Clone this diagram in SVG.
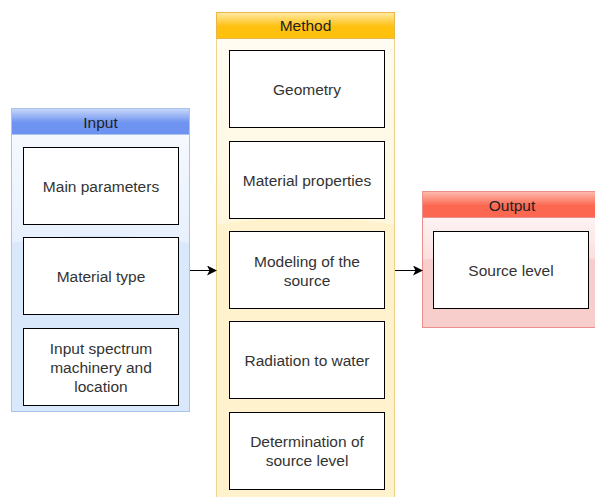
<svg xmlns="http://www.w3.org/2000/svg" width="595" height="497" viewBox="0 0 595 497">
<defs>
<linearGradient id="glass" x1="0" y1="0" x2="0" y2="1">
<stop offset="0" stop-color="#fff" stop-opacity="0.75"/>
<stop offset="1" stop-color="#fff" stop-opacity="0.35"/>
</linearGradient>
<linearGradient id="hb" x1="0" y1="0" x2="0" y2="1">
<stop offset="0" stop-color="#c9d8fa"/>
<stop offset="0.55" stop-color="#6e93f0"/>
<stop offset="1" stop-color="#6e93f0"/>
</linearGradient>
<linearGradient id="hy" x1="0" y1="0" x2="0" y2="1">
<stop offset="0" stop-color="#ffe9a6"/>
<stop offset="0.55" stop-color="#ffc10e"/>
<stop offset="1" stop-color="#ffc10e"/>
</linearGradient>
<linearGradient id="hr" x1="0" y1="0" x2="0" y2="1">
<stop offset="0" stop-color="#fdbcb0"/>
<stop offset="0.55" stop-color="#fb6750"/>
<stop offset="1" stop-color="#fb6750"/>
</linearGradient>
<marker id="arr" viewBox="0 0 10 10" refX="9" refY="5" markerWidth="10" markerHeight="10" markerUnits="userSpaceOnUse" orient="auto">
<path d="M0,0 L10,5 L0,10 L2.5,5 Z" fill="#000"/>
</marker>
<style>
.box{fill:#fff;stroke:#000;stroke-width:1}
.t{font-family:"Liberation Sans",Arial,sans-serif;font-size:15.5px;fill:#333;text-anchor:middle}
.h{font-family:"Liberation Sans",Arial,sans-serif;font-size:15.5px;fill:#222;text-anchor:middle}
.edge{fill:none;stroke:#000;stroke-width:1}
</style>
</defs>
<rect width="595" height="497" fill="#fff"/>

<g id="input">
<rect x="11.5" y="108.5" width="178" height="303" fill="#dae8fc" stroke="#a9c4eb"/>
<path d="M12,135 H189 V243 Q100.5,228 12,243 Z" fill="url(#glass)"/>
<rect x="11.5" y="108.5" width="178" height="26" fill="url(#hb)" stroke="#a9c4eb"/>
<text class="h" x="100.5" y="128">Input</text>
</g>
<g id="main-parameters">
<rect class="box" x="23.5" y="147.5" width="155" height="77"/>
<text class="t" x="101" y="192">Main parameters</text>
</g>
<g id="material-type">
<rect class="box" x="23.5" y="237.5" width="155" height="77"/>
<text class="t" x="101" y="282">Material type</text>
</g>
<g id="input-spectrum">
<rect class="box" x="23.5" y="328.5" width="155" height="77"/>
<text class="t" x="101" y="354">Input spectrum</text>
<text class="t" x="101" y="373">machinery and</text>
<text class="t" x="101" y="392">location</text>
</g>

<g id="method">
<rect x="216.5" y="12.5" width="178" height="490" fill="#fff2cc" stroke="#f0d48a"/>
<path d="M217,39 H394 V225 Q305.5,210 217,225 Z" fill="url(#glass)"/>
<rect x="216.5" y="12.5" width="178" height="26" fill="url(#hy)" stroke="#e8b64a"/>
<text class="h" x="305.5" y="31">Method</text>
</g>
<g id="geometry">
<rect class="box" x="229.5" y="50.5" width="155" height="77"/>
<text class="t" x="307" y="95">Geometry</text>
</g>
<g id="material-properties">
<rect class="box" x="229.5" y="141.5" width="155" height="77"/>
<text class="t" x="307" y="186">Material properties</text>
</g>
<g id="modeling">
<rect class="box" x="229.5" y="231.5" width="155" height="77"/>
<text class="t" x="307" y="267">Modeling of the</text>
<text class="t" x="307" y="286">source</text>
</g>
<g id="radiation">
<rect class="box" x="229.5" y="321.5" width="155" height="77"/>
<text class="t" x="307" y="366">Radiation to water</text>
</g>
<g id="determination">
<rect class="box" x="229.5" y="412.5" width="155" height="77"/>
<text class="t" x="307" y="447">Determination of</text>
<text class="t" x="307" y="466">source level</text>
</g>

<g id="output">
<rect x="422.5" y="191.5" width="180" height="136" fill="#f8cecc" stroke="#ea8f8c"/>
<path d="M423,218 H602 V260 Q512,247 423,260 Z" fill="url(#glass)"/>
<rect x="422.5" y="191.5" width="180" height="26" fill="url(#hr)" stroke="#ea8f8c"/>
<text class="h" x="512" y="211">Output</text>
</g>
<g id="source-level">
<rect class="box" x="433.5" y="231.5" width="155" height="77"/>
<text class="t" x="511" y="276">Source level</text>
</g>

<g id="connectors">
<path class="edge" d="M190,270.5 H216" marker-end="url(#arr)"/>
<path class="edge" d="M395,270.5 H422" marker-end="url(#arr)"/>
</g>
</svg>
